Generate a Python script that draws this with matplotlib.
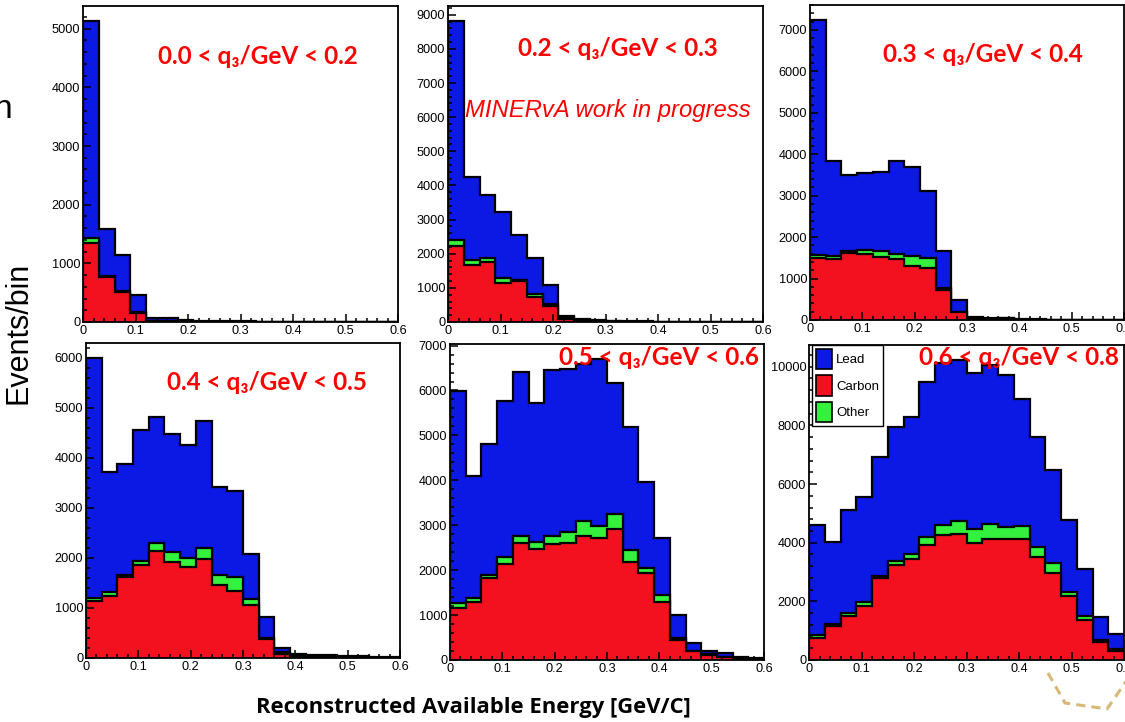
import numpy as np
import matplotlib.pyplot as plt
from matplotlib.patches import Patch
from matplotlib.lines import Line2D
from matplotlib.ticker import MultipleLocator, AutoMinorLocator

# bins of reconstructed available energy [GeV]
bin_edges = np.linspace(0.0, 0.6, 21)

q3_labels = ['0.0 < q\u2083/GeV < 0.2', '0.2 < q\u2083/GeV < 0.3', '0.3 < q\u2083/GeV < 0.4',
             '0.4 < q\u2083/GeV < 0.5', '0.5 < q\u2083/GeV < 0.6', '0.6 < q\u2083/GeV < 0.8']

# events per bin, one list per target and q3 slice
carbon_1 = [1340, 760, 505, 150, 10, 8, 4, 3, 2, 2, 1, 1, 1, 1, 0, 0, 0, 0, 0, 0]
other_1 = [85, 28, 28, 20, 4, 3, 2, 1, 1, 1, 0, 0, 0, 0, 0, 0, 0, 0, 0, 0]
lead_1 = [3705, 800, 605, 283, 54, 49, 24, 16, 12, 9, 9, 7, 7, 5, 5, 5, 4, 3, 3, 2]

carbon_2 = [2220, 1665, 1750, 1145, 1195, 725, 480, 98, 40, 20, 10, 6, 4, 3, 2, 1, 1, 1, 0, 0]
other_2 = [180, 137, 130, 148, 30, 88, 59, 39, 20, 10, 5, 4, 3, 2, 1, 1, 1, 0, 0, 0]
lead_2 = [6415, 2458, 1842, 1937, 1312, 1067, 538, 49, 28, 20, 15, 10, 8, 5, 5, 4, 3, 3, 3, 2]

carbon_3 = [1490, 1465, 1610, 1600, 1530, 1465, 1310, 1250, 725, 185, 20, 10, 35, 5, 3, 2, 1, 1, 0, 0]
other_3 = [80, 80, 65, 100, 140, 130, 235, 240, 50, 15, 10, 5, 5, 3, 2, 1, 1, 0, 0, 0]
lead_3 = [5670, 2295, 1825, 1840, 1900, 2245, 2155, 1625, 885, 285, 45, 25, 15, 12, 10, 7, 6, 5, 5, 4]

carbon_4 = [1150, 1250, 1615, 1860, 2145, 1915, 1815, 1980, 1460, 1350, 1065, 378, 85, 30, 22, 20, 15, 12, 8, 6]
other_4 = [60, 65, 45, 80, 165, 200, 190, 225, 200, 265, 110, 22, 35, 10, 8, 5, 5, 3, 2, 2]
lead_4 = [4790, 2405, 2225, 2630, 2505, 2370, 2260, 2535, 1760, 1725, 915, 416, 80, 40, 40, 40, 30, 30, 20, 17]

carbon_5 = [1150, 1300, 1820, 2130, 2600, 2470, 2585, 2600, 2770, 2710, 2920, 2180, 1930, 1285, 446, 190, 115, 60, 20, 10]
other_5 = [110, 75, 75, 155, 165, 155, 165, 260, 330, 275, 335, 260, 110, 165, 45, 15, 20, 15, 5, 2]
lead_5 = [4720, 2715, 2915, 3475, 3645, 3095, 3700, 3620, 3490, 3715, 2915, 2740, 1920, 1270, 519, 175, 65, 75, 40, 33]

carbon_6 = [740, 1170, 1500, 1840, 2785, 3240, 3445, 3920, 4260, 4295, 3975, 4125, 4115, 4115, 3500, 2955, 2195, 1365, 600, 305]
other_6 = [110, 55, 115, 150, 80, 135, 170, 285, 340, 445, 490, 500, 430, 455, 365, 365, 135, 145, 80, 70]
lead_6 = [3750, 2785, 3500, 3555, 4045, 4580, 4680, 5260, 5535, 5490, 5330, 5425, 5170, 4315, 3725, 3155, 2445, 1590, 795, 510]

carbon = [carbon_1, carbon_2, carbon_3, carbon_4, carbon_5, carbon_6]
other = [other_1, other_2, other_3, other_4, other_5, other_6]
lead = [lead_1, lead_2, lead_3, lead_4, lead_5, lead_6]

blue = '#0c18e4'
red = '#f3101f'
green = '#33f13c'

W, H = 1125, 722
fig = plt.figure(figsize=(W / 100, H / 100), dpi=100)


def px_rect(l, t, r, b):
    return [l / W, 1 - b / H, (r - l) / W, (b - t) / H]


# panel boxes in pixels (left, top, right, bottom)
boxes = [(83, 6, 398, 322), (448, 6, 763, 322), (810, 5, 1124, 320),
         (86, 343, 400, 658), (450, 344, 764, 660), (809, 345, 1124, 660)]
# label centres in pixels
label_pos = [(258, 57), (618, 48), (983, 55), (267, 382), (659, 358), (1019, 358)]

axes = []
for i, box in enumerate(boxes):
    ax = fig.add_axes(px_rect(*box))
    c = np.array(carbon[i], dtype=float)
    co = c + np.array(other[i])
    tot = co + np.array(lead[i])
    for vals, col in [(tot, blue), (co, green), (c, red)]:
        ax.stairs(vals, bin_edges, fill=True, color=col, lw=0)
        ax.stairs(vals, bin_edges, color='black', lw=1.6)
    ax.set_xlim(0, 0.6)
    ax.set_ylim(0, tot.max() * 1.05)
    ax.xaxis.set_minor_locator(AutoMinorLocator(5))
    ax.yaxis.set_major_locator(MultipleLocator(2000 if i == 5 else 1000))
    ax.yaxis.set_minor_locator(AutoMinorLocator(5))
    ax.set_xticks(np.arange(0, 0.61, 0.1))
    ax.set_xticklabels(['0', '0.1', '0.2', '0.3', '0.4', '0.5', '0.6'])
    ax.tick_params(which='both', direction='in', top=False, right=False, width=1.1,
                   labelsize=9.2, pad=2, colors='black')
    ax.tick_params(which='major', length=6)
    ax.tick_params(which='minor', length=3)
    for lab in ax.get_xticklabels() + ax.get_yticklabels():
        lab.set_family('Liberation Sans')
    for sp in ax.spines.values():
        sp.set_linewidth(1.3)
    axes.append(ax)

for (x, y), txt in zip(label_pos, q3_labels):
    fig.text(x / W, 1 - y / H, txt, color='#ff0000', fontsize=17.5, fontweight='bold',
             family=['Lato', 'DejaVu Sans'], ha='center', va='center')

fig.text(608 / W, 1 - 110 / H, 'MINERvA work in progress', color='#ff0000', fontsize=17.2,
         style='italic', family='Liberation Sans', ha='center', va='center')

handles = [Patch(facecolor=blue, edgecolor='black', lw=1.2),
           Patch(facecolor=red, edgecolor='black', lw=1.2),
           Patch(facecolor=green, edgecolor='black', lw=1.2)]
leg = axes[5].legend(handles, ['Lead', 'Carbon', 'Other'], loc='upper left',
                     bbox_to_anchor=(0.01, 1.0), fancybox=False, framealpha=1,
                     edgecolor='black', handlelength=1.2, handleheight=2.0,
                     handletextpad=0.3, borderaxespad=0, borderpad=0.3,
                     labelspacing=0.45, prop={'family': 'Liberation Sans', 'size': 9.5})
leg.get_frame().set_linewidth(1.0)

fig.text(19 / W, 1 - 333 / H, 'Events/bin', rotation=90, fontsize=22,
         family='Liberation Sans', ha='center', va='center')
fig.text(12 / W, 1 - 118 / H, 'n', fontsize=24, family='Liberation Sans',
         ha='right', va='baseline')
fig.text(473 / W, 1 - 708 / H, 'Reconstructed Available Energy [GeV/C]', fontsize=15.8,
         fontweight='bold', family=['Open Sans', 'DejaVu Sans'], ha='center', va='center')

# dashed decoration at the lower right corner
xs = np.array([1048, 1065, 1107, 1127]) / W
ys = 1 - np.array([673, 703, 709, 680]) / H
fig.add_artist(Line2D(xs, ys, color='#d8b878', lw=2.2, ls=(0, (3, 2))))

fig.savefig('out.png', dpi=100)
